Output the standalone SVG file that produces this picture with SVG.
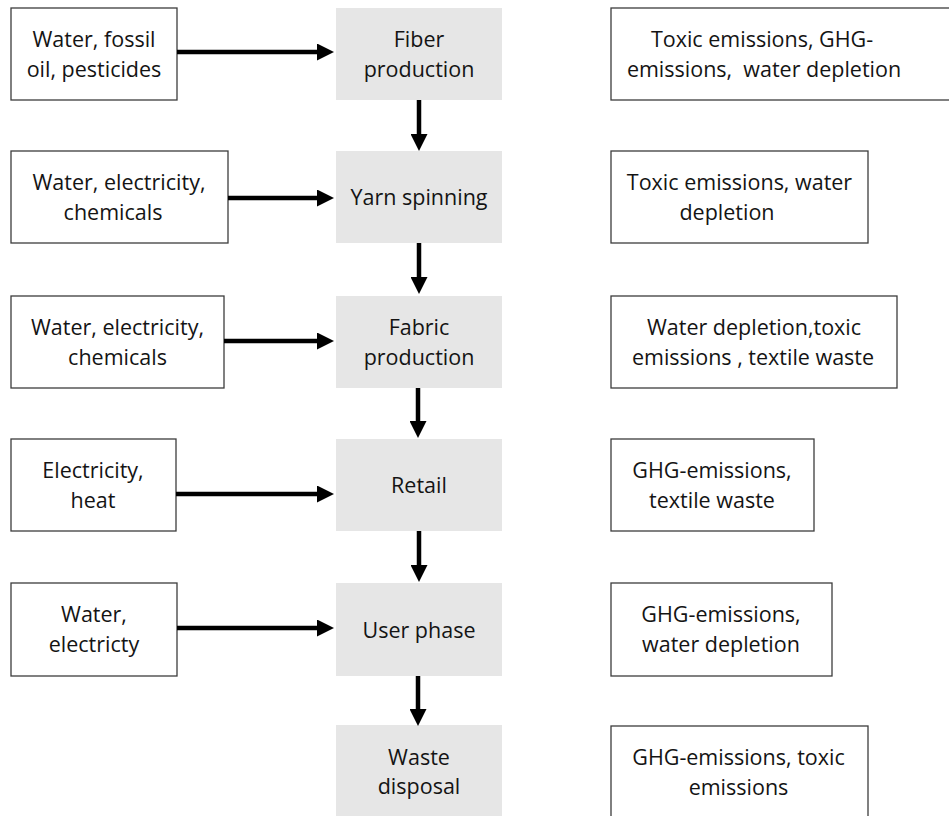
<svg xmlns="http://www.w3.org/2000/svg" width="949" height="816" viewBox="0 0 949 816">
  <style>
    .box { fill: #ffffff; stroke: #3c3c3c; stroke-width: 1.3; }
    .stage { fill: #e6e6e6; stroke: none; }
    text { font-family: "Open Sans", "Noto Sans", "Liberation Sans", sans-serif; font-size: 21.5px; fill: #141414; text-anchor: middle; }
    .conn { stroke: #000000; stroke-width: 4.5; fill: none; marker-end: url(#arrow); }
  </style>
  <defs>
    <marker id="arrow" markerUnits="userSpaceOnUse" markerWidth="17" markerHeight="17" refX="6" refY="8.5" orient="auto" viewBox="0 0 17 17">
      <path d="M0,0 L17,8.5 L0,17 z" fill="#000000"/>
    </marker>
  </defs>
  <rect width="949" height="816" fill="#ffffff"/>

  <!-- Inputs (left) -->
  <g id="in-fiber">
    <rect class="box" x="11" y="8" width="166" height="92"/>
    <text x="94" y="47">Water, fossil</text>
    <text x="94" y="77">oil, pesticides</text>
  </g>
  <g id="in-yarn">
    <rect class="box" x="11" y="151" width="217" height="92"/>
    <text x="119" y="190">Water, electricity,</text>
    <text x="113" y="220">chemicals</text>
  </g>
  <g id="in-fabric">
    <rect class="box" x="11" y="296" width="213" height="92"/>
    <text x="117.5" y="335">Water, electricity,</text>
    <text x="117.5" y="365">chemicals</text>
  </g>
  <g id="in-retail">
    <rect class="box" x="11" y="439" width="165" height="92"/>
    <text x="93" y="478">Electricity,</text>
    <text x="93" y="508">heat</text>
  </g>
  <g id="in-user">
    <rect class="box" x="11" y="583" width="166" height="93"/>
    <text x="94" y="622">Water,</text>
    <text x="94" y="652">electricty</text>
  </g>

  <!-- Stages (centre) -->
  <g id="fiber-production">
    <rect class="stage" x="336" y="8" width="166" height="92"/>
    <text x="419" y="47">Fiber</text>
    <text x="419" y="77">production</text>
  </g>
  <g id="yarn-spinning">
    <rect class="stage" x="336" y="151" width="166" height="92"/>
    <text x="419" y="205">Yarn spinning</text>
  </g>
  <g id="fabric-production">
    <rect class="stage" x="336" y="296" width="166" height="92"/>
    <text x="419" y="335">Fabric</text>
    <text x="419" y="365">production</text>
  </g>
  <g id="retail">
    <rect class="stage" x="336" y="439" width="166" height="92"/>
    <text x="419" y="493">Retail</text>
  </g>
  <g id="user-phase">
    <rect class="stage" x="336" y="583" width="166" height="93"/>
    <text x="419" y="638">User phase</text>
  </g>
  <g id="waste-disposal">
    <rect class="stage" x="336" y="725" width="166" height="95"/>
    <text x="419" y="765">Waste</text>
    <text x="419" y="794">disposal</text>
  </g>

  <!-- Outputs (right) -->
  <g id="out-fiber">
    <rect class="box" x="611" y="8" width="345" height="92"/>
    <text x="762" y="47">Toxic emissions, GHG-</text>
    <text x="764" y="77" xml:space="preserve">emissions,  water depletion</text>
  </g>
  <g id="out-yarn">
    <rect class="box" x="611" y="151" width="257" height="92"/>
    <text x="739.5" y="190">Toxic emissions, water</text>
    <text x="727" y="220">depletion</text>
  </g>
  <g id="out-fabric">
    <rect class="box" x="611" y="296" width="286" height="92"/>
    <text x="754" y="335">Water depletion,toxic</text>
    <text x="753" y="365">emissions , textile waste</text>
  </g>
  <g id="out-retail">
    <rect class="box" x="611" y="439" width="203" height="92"/>
    <text x="712" y="478">GHG-emissions,</text>
    <text x="712" y="508">textile waste</text>
  </g>
  <g id="out-user">
    <rect class="box" x="611" y="583" width="221" height="93"/>
    <text x="721" y="622">GHG-emissions,</text>
    <text x="721" y="652">water depletion</text>
  </g>
  <g id="out-waste">
    <rect class="box" x="611" y="726" width="257" height="96"/>
    <text x="738.5" y="765">GHG-emissions, toxic</text>
    <text x="738.5" y="795">emissions</text>
  </g>

  <!-- Connectors -->
  <g id="connectors">
    <line class="conn" x1="177" y1="52" x2="323" y2="52"/>
    <line class="conn" x1="228" y1="198" x2="323" y2="198"/>
    <line class="conn" x1="224" y1="341" x2="323" y2="341"/>
    <line class="conn" x1="176" y1="494" x2="323" y2="494"/>
    <line class="conn" x1="177" y1="628" x2="323" y2="628"/>
    <line class="conn" x1="419" y1="100" x2="419" y2="140"/>
    <line class="conn" x1="419" y1="243" x2="419" y2="283"/>
    <line class="conn" x1="418" y1="388" x2="418" y2="427"/>
    <line class="conn" x1="419" y1="531" x2="419" y2="571"/>
    <line class="conn" x1="418" y1="676" x2="418" y2="715"/>
  </g>
</svg>
